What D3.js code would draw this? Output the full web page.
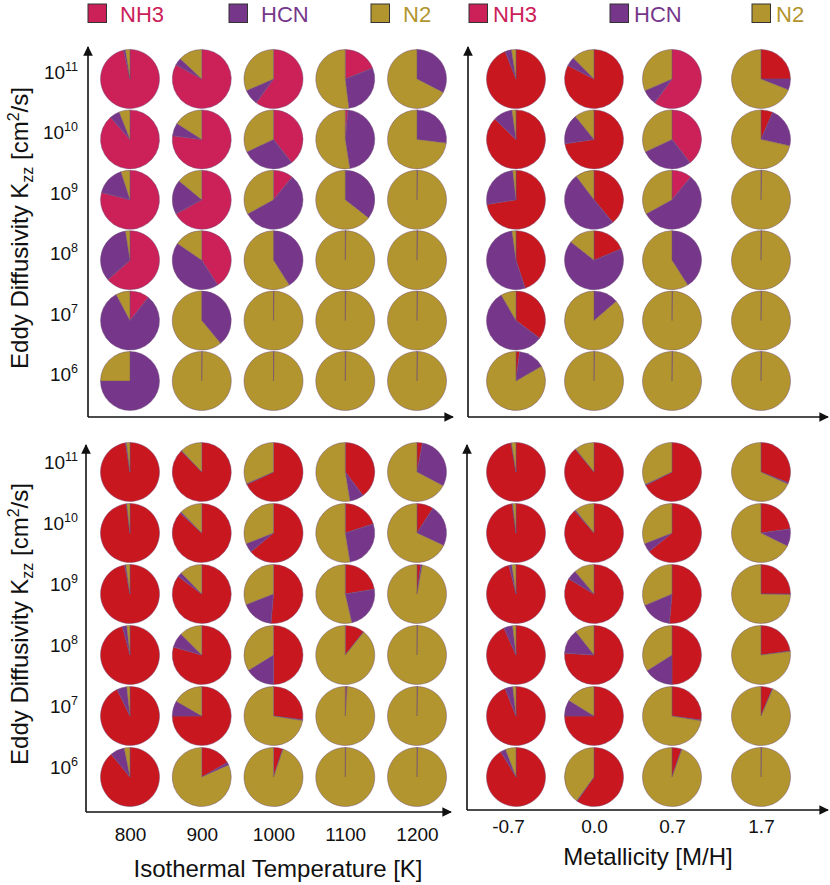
<!DOCTYPE html>
<html>
<head>
<meta charset="utf-8">
<script src="https://cdn.jsdelivr.net/npm/d3@7"></script>
<style>
  body { margin: 0; background: #fff; }
  text { font-family: "Liberation Sans", Arial, sans-serif; }
</style>
</head>
<body>
<div id="container"></div>
<script>
/* CONSTANTS AND GLOBALS */
const width = 830;
const height = 885;

/* DATA */
const species = ["NH3", "HCN", "N2"];
const kzzValues = [1e11, 1e10, 1e9, 1e8, 1e7, 1e6];   // rows, top to bottom
const temperatures = [800, 900, 1000, 1100, 1200];
const metallicities = [-0.7, 0.0, 0.7, 1.7];
const metallicityLabels = ["-0.7", "0.0", "0.7", "1.7"];

// top left: temperature grid
const tempTopNH3 = [
  [0.965, 0.83, 0.60, 0.19, 0],
  [0.885, 0.77, 0.395, 0.015, 0],
  [0.79, 0.67, 0.11, 0, 0],
  [0.635, 0.41, 0, 0, 0],
  [0.107, 0, 0, 0, 0],
  [0, 0, 0, 0, 0]
];
const tempTopHCN = [
  [0.01, 0.04, 0.085, 0.29, 0.325],
  [0.055, 0.07, 0.285, 0.46, 0.27],
  [0.16, 0.19, 0.56, 0.355, 0.003],
  [0.34, 0.435, 0.41, 0.003, 0.003],
  [0.815, 0.39, 0.003, 0.003, 0.003],
  [0.75, 0.003, 0.003, 0.003, 0.003]
];
const tempTopN2 = [
  [0.025, 0.13, 0.315, 0.52, 0.675],
  [0.06, 0.16, 0.32, 0.525, 0.73],
  [0.05, 0.14, 0.33, 0.645, 0.997],
  [0.025, 0.155, 0.59, 0.997, 0.997],
  [0.078, 0.61, 0.997, 0.997, 0.997],
  [0.25, 0.997, 0.997, 0.997, 0.997]
];

// top right: metallicity grid
const metTopNH3 = [
  [0.94, 0.826, 0.60, 0.25],
  [0.872, 0.726, 0.395, 0.065],
  [0.725, 0.39, 0.11, 0],
  [0.45, 0.188, 0, 0],
  [0.352, 0, 0, 0],
  [0.02, 0, 0, 0]
];
const metTopHCN = [
  [0.035, 0.05, 0.085, 0.06],
  [0.106, 0.165, 0.285, 0.22],
  [0.257, 0.507, 0.56, 0.004],
  [0.528, 0.668, 0.41, 0.003],
  [0.564, 0.136, 0.003, 0.003],
  [0.147, 0.003, 0.003, 0.003]
];
const metTopN2 = [
  [0.025, 0.124, 0.315, 0.69],
  [0.022, 0.109, 0.32, 0.715],
  [0.018, 0.103, 0.33, 0.996],
  [0.022, 0.144, 0.59, 0.997],
  [0.084, 0.864, 0.997, 0.997],
  [0.833, 0.997, 0.997, 0.997]
];

// bottom left: temperature grid
const tempBotNH3 = [
  [0.975, 0.877, 0.68, 0.397, 0.03],
  [0.98, 0.869, 0.64, 0.2, 0.091],
  [0.97, 0.852, 0.514, 0.224, 0.02],
  [0.958, 0.794, 0.5, 0.106, 0],
  [0.928, 0.75, 0.27, 0.008, 0],
  [0.89, 0.168, 0.05, 0, 0]
];
const tempBotHCN = [
  [0.005, 0.003, 0.005, 0.077, 0.297],
  [0.002, 0.008, 0.05, 0.274, 0.228],
  [0.007, 0.025, 0.177, 0.24, 0.008],
  [0.024, 0.081, 0.162, 0.002, 0.003],
  [0.054, 0.083, 0.005, 0.002, 0.003],
  [0.078, 0.015, 0.002, 0.003, 0.003]
];
const tempBotN2 = [
  [0.02, 0.12, 0.315, 0.526, 0.673],
  [0.018, 0.123, 0.31, 0.526, 0.681],
  [0.023, 0.123, 0.309, 0.536, 0.972],
  [0.018, 0.125, 0.338, 0.892, 0.997],
  [0.018, 0.167, 0.725, 0.99, 0.997],
  [0.032, 0.817, 0.948, 0.997, 0.997]
];

// bottom right: metallicity grid
const metBotNH3 = [
  [0.973, 0.89, 0.675, 0.309],
  [0.978, 0.885, 0.642, 0.228],
  [0.962, 0.836, 0.514, 0.25],
  [0.933, 0.76, 0.5, 0.228],
  [0.94, 0.75, 0.272, 0.0625],
  [0.914, 0.597, 0.052, 0]
];
const metBotHCN = [
  [0.002, 0.003, 0.005, 0.008],
  [0.004, 0.007, 0.048, 0.095],
  [0.015, 0.053, 0.173, 0.003],
  [0.048, 0.134, 0.16, 0.002],
  [0.042, 0.088, 0.004, 0.002],
  [0.028, 0.003, 0.002, 0.003]
];
const metBotN2 = [
  [0.025, 0.107, 0.32, 0.683],
  [0.018, 0.108, 0.31, 0.677],
  [0.023, 0.111, 0.313, 0.747],
  [0.019, 0.106, 0.34, 0.77],
  [0.018, 0.162, 0.724, 0.9355],
  [0.058, 0.4, 0.946, 0.997]
];

/* COLORS */
const pink = "#cb2058";
const red = "#c9171f";
const purple = "#76378b";
const gold = "#b2952e";
const legendColors = [pink, purple, gold];

/* SCALES */
const xTemp = d3.scalePoint().domain(temperatures).range([130, 417]);
const xMet = d3.scaleLinear().domain([-0.7, 0.7, 1.7]).range([516, 672, 761]);
const yTop = d3.scaleLog().domain([1e6, 1e11]).range([381, 79]);
const yBot = d3.scaleLog().domain([1e6, 1e11]).range([777, 472]);
const radius = 29.5;

const panels = [
  { nh3: tempTopNH3, hcn: tempTopHCN, n2: tempTopN2, cols: temperatures, x: xTemp, y: yTop,
    axisX: 88, axisY: 417, tipY: 47, tipX: 453, nh3Color: () => pink },
  { nh3: metTopNH3, hcn: metTopHCN, n2: metTopN2, cols: metallicities, x: xMet, y: yTop,
    axisX: 468, axisY: 417, tipY: 47, tipX: 828, nh3Color: c => c === 0.7 ? pink : red },
  { nh3: tempBotNH3, hcn: tempBotHCN, n2: tempBotN2, cols: temperatures, x: xTemp, y: yBot,
    axisX: 86, axisY: 812, tipY: 445, tipX: 451, nh3Color: () => red },
  { nh3: metBotNH3, hcn: metBotHCN, n2: metBotN2, cols: metallicities, x: xMet, y: yBot,
    axisX: 467, axisY: 810, tipY: 445, tipX: 828, nh3Color: () => red }
];

/* HTML ELEMENTS */
const svg = d3.select("#container")
  .append("svg")
  .attr("width", width)
  .attr("height", height);

svg.append("defs").append("marker")
  .attr("id", "arrow")
  .attr("viewBox", "0 0 10 10")
  .attr("refX", 9)
  .attr("refY", 5)
  .attr("markerWidth", 6)
  .attr("markerHeight", 6)
  .attr("markerUnits", "strokeWidth")
  .attr("orient", "auto")
  .append("path")
  .attr("d", "M0,0 L10,5 L0,10 z")
  .attr("fill", "#111");

const pie = d3.pie().sort(null).value(d => d.value);
const arc = d3.arc().innerRadius(0).outerRadius(radius);

panels.forEach(p => {
  const g = svg.append("g");

  // PIES
  const cells = [];
  kzzValues.forEach((k, i) => {
    p.cols.forEach((c, j) => {
      cells.push({ kzz: k, col: c, values: [p.nh3[i][j], p.hcn[i][j], p.n2[i][j]] });
    });
  });

  const pies = g.selectAll("g.pie")
    .data(cells)
    .join("g")
    .attr("class", "pie")
    .attr("transform", d => `translate(${p.x(d.col)},${p.y(d.kzz)})`);

  pies.selectAll("path")
    .data(d => pie(d.values.map((v, s) => ({ value: v, species: species[s], col: d.col }))))
    .join("path")
    .attr("d", arc)
    .attr("fill", d => d.data.species === "NH3" ? p.nh3Color(d.data.col)
      : d.data.species === "HCN" ? purple : gold)
    .attr("stroke", "#6e4d78")
    .attr("stroke-width", 0.45)
    .attr("stroke-linejoin", "round");

  // AXES (arrows)
  g.append("path")
    .attr("d", `M${p.axisX},${p.axisY} L${p.axisX},${p.tipY}`)
    .attr("stroke", "#111").attr("stroke-width", 1.6).attr("fill", "none")
    .attr("marker-end", "url(#arrow)");
  g.append("path")
    .attr("d", `M${p.axisX},${p.axisY} L${p.tipX},${p.axisY}`)
    .attr("stroke", "#111").attr("stroke-width", 1.6).attr("fill", "none")
    .attr("marker-end", "url(#arrow)");
});

// Y TICK LABELS (left panels only)
[[yTop, 0], [yBot, -3]].forEach(([y, shift]) => {
  const labels = svg.append("g").selectAll("text")
    .data(kzzValues)
    .join("text")
    .attr("x", 78)
    .attr("y", d => y(d) + shift)
    .attr("text-anchor", "end")
    .attr("font-size", 19)
    .attr("fill", "#111");
  labels.append("tspan").text("10");
  labels.append("tspan")
    .attr("font-size", 12.5)
    .attr("dy", -8)
    .text(d => Math.round(Math.log10(d)));
});

// X TICK LABELS
const xAxisTemp = svg.append("g")
  .attr("transform", "translate(0,812)")
  .call(d3.axisBottom(xTemp).tickSize(0).tickPadding(16));
const xAxisMet = svg.append("g")
  .attr("transform", "translate(0,810)")
  .call(d3.axisBottom(xMet).tickValues(metallicities)
    .tickFormat((d, i) => metallicityLabels[i]).tickSize(0).tickPadding(10));
[xAxisTemp, xAxisMet].forEach(a => {
  a.select(".domain").remove();
  a.selectAll("text")
    .attr("font-size", 19)
    .attr("font-family", "Liberation Sans, Arial, sans-serif")
    .attr("fill", "#111");
});
xAxisMet.selectAll("text").attr("dx", (d, i) => i === 0 ? -8 : 0);

// AXIS TITLES
svg.append("text")
  .attr("x", 278).attr("y", 877)
  .attr("text-anchor", "middle")
  .attr("font-size", 24)
  .attr("fill", "#111")
  .text("Isothermal Temperature [K]");
svg.append("text")
  .attr("x", 648).attr("y", 865)
  .attr("text-anchor", "middle")
  .attr("font-size", 24)
  .attr("fill", "#111")
  .text("Metallicity [M/H]");

[228, 624].forEach(cy => {
  const t = svg.append("text")
    .attr("transform", `translate(28,${cy}) rotate(-90)`)
    .attr("text-anchor", "middle")
    .attr("font-size", 24)
    .attr("fill", "#111");
  t.append("tspan").text("Eddy Diffusivity K");
  t.append("tspan").attr("font-size", 16).attr("dy", 5).text("zz");
  t.append("tspan").attr("dy", -5).text(" [cm");
  t.append("tspan").attr("font-size", 16).attr("dy", -9).text("2");
  t.append("tspan").attr("dy", 9).text("/s]");
});

// LEGENDS
const legendStarts = [88, 469];
const legendOffsets = [0, 141, 283];
legendStarts.forEach(x0 => {
  const items = svg.append("g").selectAll("g")
    .data(species)
    .join("g")
    .attr("transform", (d, i) => `translate(${x0 + legendOffsets[i]},4)`);
  items.append("rect")
    .attr("width", 18.5).attr("height", 18.5)
    .attr("fill", (d, i) => legendColors[i])
    .attr("stroke", "#333").attr("stroke-width", 1);
  items.append("text")
    .attr("x", x0 === 88 ? 32 : 24)
    .attr("y", 18)
    .attr("font-size", 22)
    .attr("fill", (d, i) => legendColors[i])
    .text(d => d);
});
</script>
</body>
</html>
